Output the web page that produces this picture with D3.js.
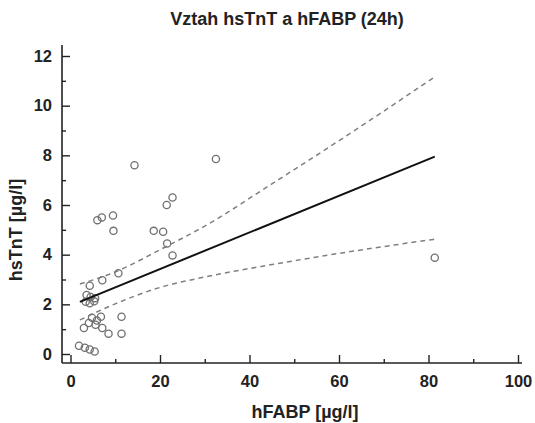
<!DOCTYPE html>
<html>
<head>
<meta charset="utf-8">
<script src="https://cdn.jsdelivr.net/npm/d3@7"></script>
<style>
  body { margin: 0; background: #fff; }
  svg text { font-family: "Liberation Sans", Arial, sans-serif; font-weight: bold; fill: #222; }
</style>
</head>
<body>
<div id="chart"></div>
<script>
// hFABP [µg/l] vs hsTnT [µg/l]
let hfabp = [1.9, 3.2, 4.3, 5.4, 3.0, 4.1, 4.8, 5.9, 6.8, 5.6, 7.1, 8.5, 11.4, 11.4,
	3.4, 4.3, 5.3, 3.6, 4.5, 5.5, 4.3, 7.1, 10.7, 6.0, 7.0, 9.5, 9.6, 14.3,
	18.6, 20.7, 21.5, 22.8, 21.6, 22.8, 32.5, 81.4];
let hstnt = [0.33, 0.25, 0.18, 0.10, 1.05, 1.25, 1.46, 1.35, 1.50, 1.18, 1.05, 0.82, 1.50, 0.82,
	2.10, 2.04, 2.12, 2.38, 2.30, 2.25, 2.75, 2.97, 3.25, 5.39, 5.50, 5.58, 4.96, 7.60,
	4.96, 4.92, 6.00, 6.30, 4.45, 3.97, 7.85, 3.88];

// regression line and 95% confidence band
let fitX = [2.1, 81.4];
let fitY = [2.10, 7.95];
let bandX = [2.1, 10, 20, 30, 45, 66, 81.4];
let bandUpper = [2.82, 3.30, 4.20, 5.15, 6.85, 9.30, 11.16];
let bandLower = [1.37, 2.02, 2.68, 3.10, 3.60, 4.22, 4.62];

let xMajor = [0, 20, 40, 60, 80, 100];
let xMinor = [10, 30, 50, 70, 90];
let yMajor = [0, 2, 4, 6, 8, 10, 12];
let yMinor = [1, 3, 5, 7, 9, 11];

let width = 535, height = 423;
let axisX = 62, axisY = 363;

let svg = d3.select("#chart").append("svg")
	.attr("width", width)
	.attr("height", height);

let x = d3.scaleLinear().domain([0, 100]).range([70.5, 518]);
let y = d3.scaleLinear().domain([0, 12]).range([354, 56]);

// title
svg.append("text")
	.attr("x", 287).attr("y", 25)
	.attr("text-anchor", "middle")
	.style("font-size", "18px")
	.text("Vztah hsTnT a hFABP (24h)");

// axes, ticks pointing inward
let yAxis = svg.append("g")
	.attr("transform", "translate(" + axisX + ",0)")
	.call(d3.axisLeft(y).tickValues(yMajor).tickSize(-8).tickPadding(10).tickFormat(d3.format("d")));
let yAxisMinor = svg.append("g")
	.attr("transform", "translate(" + axisX + ",0)")
	.call(d3.axisLeft(y).tickValues(yMinor).tickSize(-4).tickFormat(""));

let xAxis = svg.append("g")
	.attr("transform", "translate(0," + axisY + ")")
	.call(d3.axisBottom(x).tickValues(xMajor).tickSize(-8).tickPadding(12).tickFormat(d3.format("d")));
let xAxisMinor = svg.append("g")
	.attr("transform", "translate(0," + axisY + ")")
	.call(d3.axisBottom(x).tickValues(xMinor).tickSize(-4).tickFormat(""));

[yAxis, yAxisMinor, xAxis, xAxisMinor].forEach((g) => {
	g.select(".domain").remove();
	g.selectAll(".tick line").attr("stroke", "#222").attr("stroke-width", 1.4);
	g.selectAll(".tick text").style("font-size", "16.5px").attr("fill", "#222");
});

svg.append("line")
	.attr("x1", axisX).attr("x2", axisX)
	.attr("y1", 45).attr("y2", axisY)
	.attr("stroke", "#222").attr("stroke-width", 1.6);
svg.append("line")
	.attr("x1", axisX).attr("x2", 522)
	.attr("y1", axisY).attr("y2", axisY)
	.attr("stroke", "#222").attr("stroke-width", 1.6);

// axis labels
svg.append("text")
	.attr("x", 305).attr("y", 418)
	.attr("text-anchor", "middle")
	.style("font-size", "18px")
	.text("hFABP [µg/l]");
svg.append("text")
	.attr("transform", "translate(22,230) rotate(-90)")
	.attr("text-anchor", "middle")
	.style("font-size", "18px")
	.text("hsTnT [µg/l]");

// confidence band
let band = d3.line()
	.x((o) => x(o[0]))
	.y((o) => y(o[1]))
	.curve(d3.curveMonotoneX);

[bandUpper, bandLower].forEach((vals) => {
	svg.append("path")
		.attr("d", band(d3.zip(bandX, vals)))
		.attr("fill", "none")
		.attr("stroke", "#808080")
		.attr("stroke-width", 1.5)
		.attr("stroke-dasharray", "5,4");
});

// points
svg.append("g").selectAll("circle")
	.data(d3.zip(hfabp, hstnt))
	.enter().append("circle")
	.attr("cx", (o) => x(o[0]))
	.attr("cy", (o) => y(o[1]))
	.attr("r", 3.6)
	.attr("fill", "none")
	.attr("stroke", "#707070")
	.attr("stroke-width", 1.3);

// regression line
svg.append("path")
	.attr("d", d3.line().x((o) => x(o[0])).y((o) => y(o[1]))(d3.zip(fitX, fitY)))
	.attr("fill", "none")
	.attr("stroke", "#111")
	.attr("stroke-width", 2);
</script>
</body>
</html>
